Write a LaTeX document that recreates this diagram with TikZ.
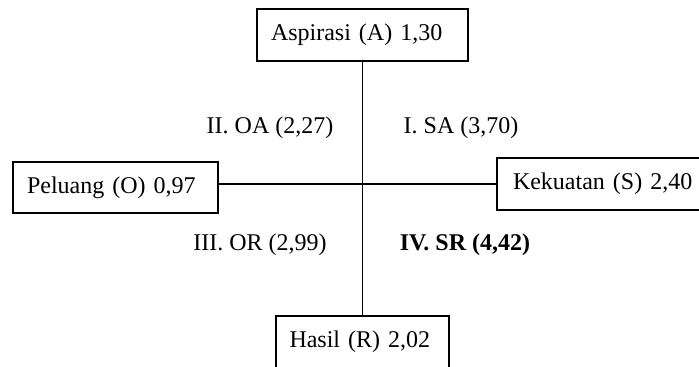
\documentclass[tikz,border=0pt]{standalone}
\usepackage{fontspec}
\setmainfont{Liberation Serif}
\begin{document}
\begin{tikzpicture}[x=0.5pt,y=-0.5pt,
  box/.style={draw, line width=0.65pt, rectangle, inner xsep=7pt, inner ysep=0pt, align=left, font=\fontsize{12pt}{14pt}\selectfont},
  lbl/.style={anchor=base, inner sep=0pt, font=\fontsize{12pt}{14pt}\selectfont},
  conn/.style={line width=0.65pt}]
\useasboundingbox (0,0) rectangle (699,366);
\clip (0,0) rectangle (699,366);
\node[box, minimum width=105.5pt, text width=91.5pt, minimum height=26pt] (A) at (362.5,35) {Aspirasi (A) 1,30};
\node[box, minimum width=102.5pt, text width=88.5pt, minimum height=25.5pt] (O) at (115.5,187.5) {Peluang (O) 0,97};
\node[box, minimum width=106pt, text width=92pt, minimum height=26pt, inner xsep=8pt, text width=90pt] (S) at (603,184) {Kekuatan (S) 2,40};
\node[box, minimum width=86.5pt, text width=73pt, minimum height=26pt, inner xsep=6.75pt] (R) at (362.5,342) {Hasil (R) 2,02};
\draw[conn] (A.south) -- (R.north);
\draw[conn] (O.east |- S.west) -- (S.west);
\node[lbl] (OA) at (270,133) {II. OA (2,27)};
\node[lbl] (SA) at (461,133) {I. SA (3,70)};
\node[lbl] (OR) at (260,250) {III. OR (2,99)};
\node[lbl, font=\fontsize{12pt}{14pt}\selectfont\bfseries] (SR) at (465,250) {IV. SR (4,42)};
\end{tikzpicture}
\end{document}
